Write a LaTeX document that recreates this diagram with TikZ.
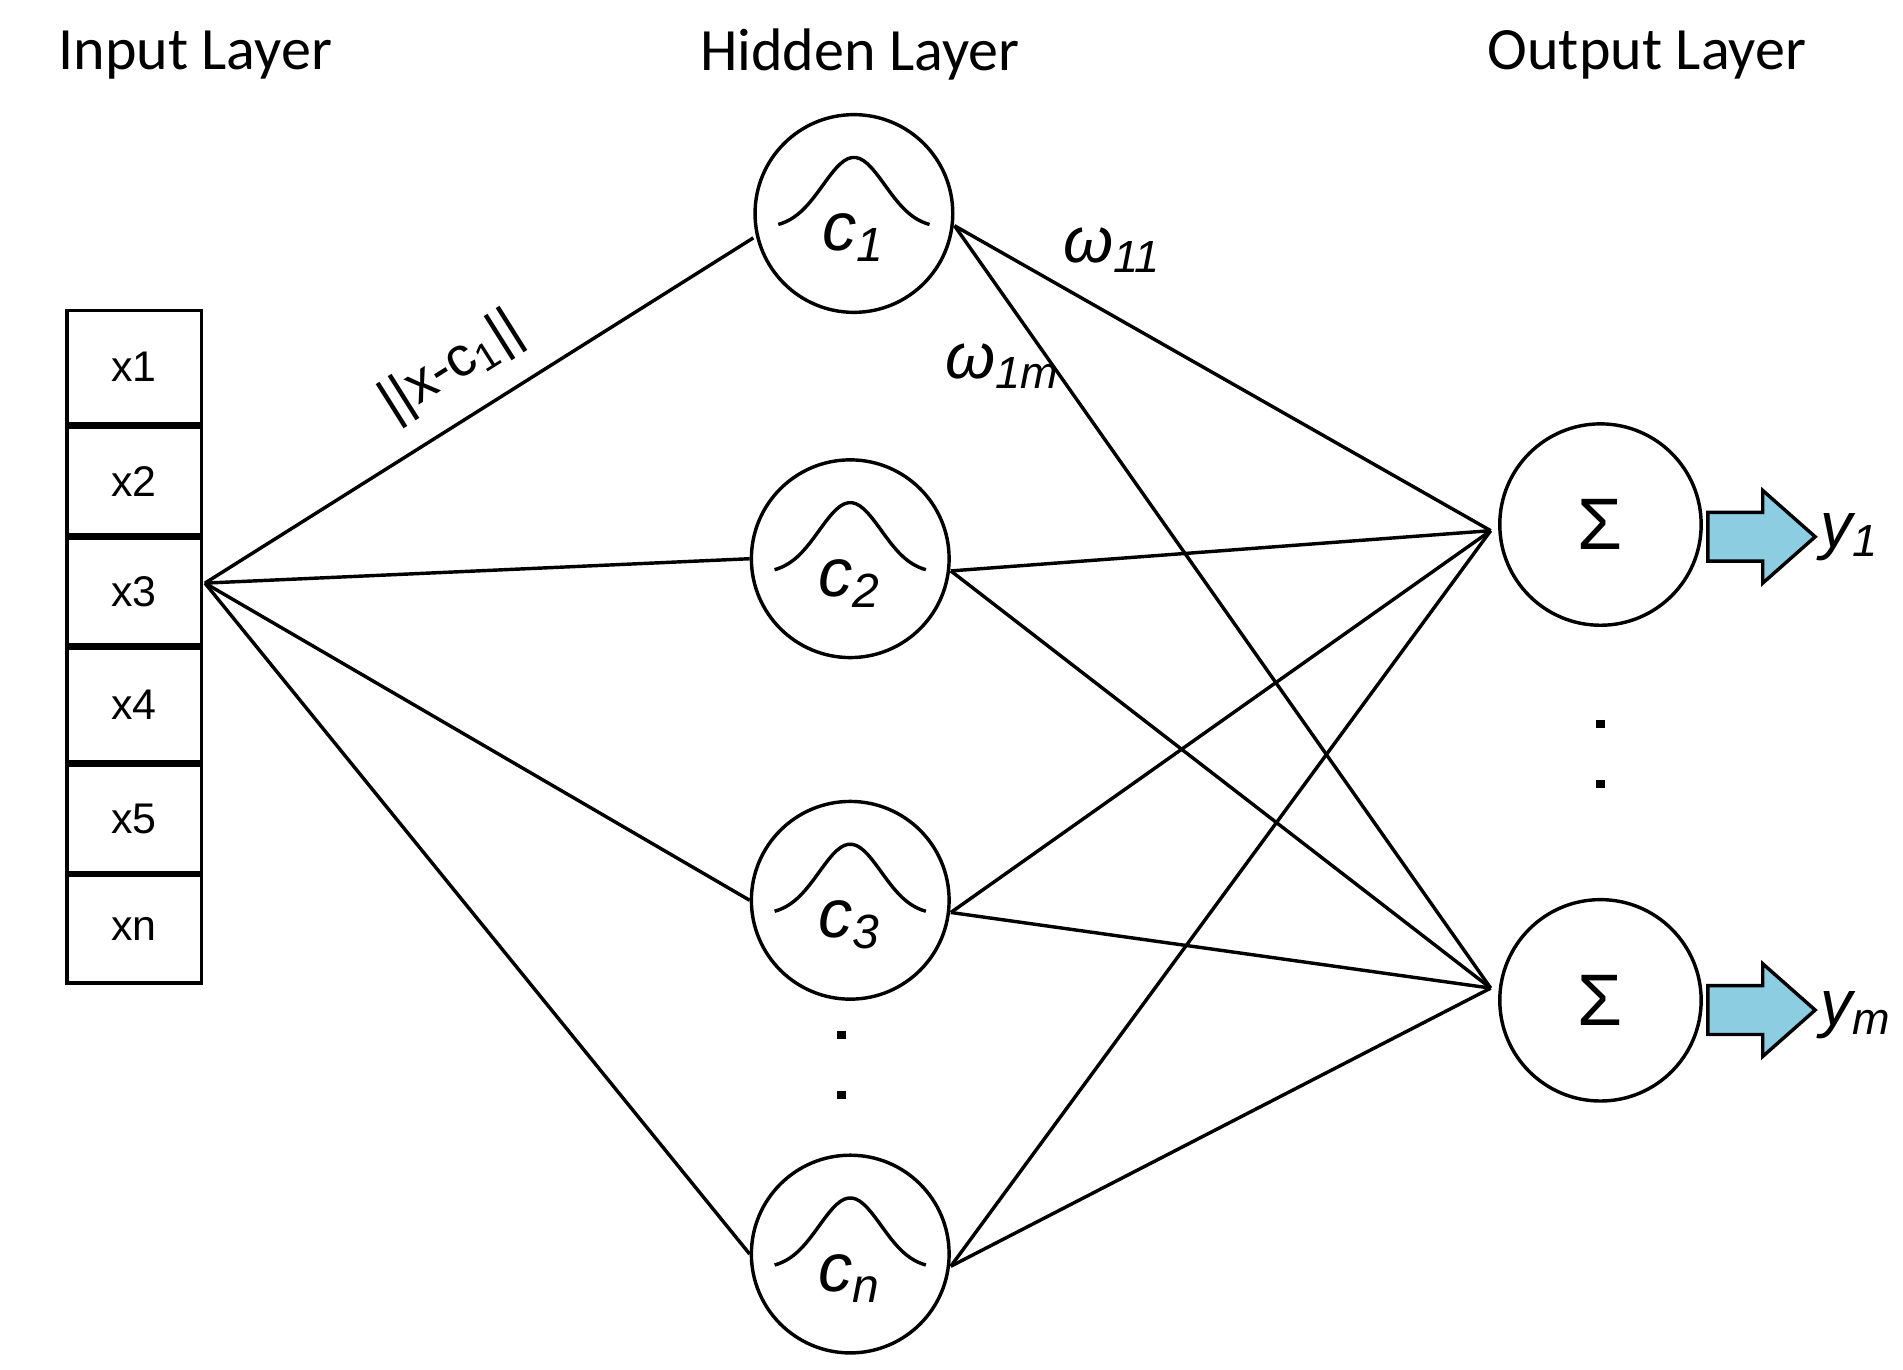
\documentclass[tikz,border=0pt]{standalone}
\usepackage{fontspec}
\setmainfont{Liberation Sans}
\newfontfamily\titlefont{Carlito}
\usetikzlibrary{positioning}
\definecolor{arrowblue}{RGB}{140,205,225}
\tikzset{
  rbf/.style={draw, thick, circle, minimum size=1.62cm, inner sep=0pt},
  sumnode/.style={draw, thick, circle, minimum size=1.65cm, inner sep=0pt},
  cell/.style={draw, thick, minimum width=1.1cm, inner sep=0pt, font=\fontsize{10}{12}\selectfont},
  conn/.style={thick},
  outarrow/.style={fill=arrowblue, draw=black, thick},
  title/.style={font=\titlefont\fontsize{14}{16}\selectfont},
  dotcol/.style={line width=2pt, dash pattern=on 2pt off 12pt}
}
\begin{document}
\begin{tikzpicture}[x=0.01cm, y=-0.01cm]
  \useasboundingbox (0,0) rectangle (1560,1123);
  % titles
  \node[title] (tin) at (160,45) {Input Layer};
  \node[title] (thid) at (705,45) {Hidden Layer};
  \node[title] (tout) at (1350,45) {Output Layer};
  % input vector
  \node[cell, minimum height=0.93cm] (x1) at (110,301) {x1};
  \node[cell, minimum height=0.88cm, below=0pt of x1] (x2) {x2};
  \node[cell, minimum height=0.87cm, below=0pt of x2] (x3) {x3};
  \node[cell, minimum height=0.93cm, below=0pt of x3] (x4) {x4};
  \node[cell, minimum height=0.88cm, below=0pt of x4] (x5) {x5};
  \node[cell, minimum height=0.88cm, below=0pt of x5] (xn) {xn};
  \coordinate (src) at (168,478);
  % hidden layer
  \node[rbf] (c1) at (700,175) {};
  \node[rbf] (c2) at (697,458) {};
  \node[rbf] (c3) at (697,738) {};
  \node[rbf] (cn) at (697,1028) {};
  \foreach \c/\t in {c1/1, c2/2, c3/3, cn/n} {
    \draw[thick, shift={(\c)}] plot[domain=-62:62, samples=40] (\x,{12-58*exp(-(\x/36)^2)});
    \node[font=\fontsize{16}{18}\selectfont\itshape] at ([yshift=-0.2cm]\c) {c\textsubscript{\t}};
  }
  \coordinate (hd1) at (690,845);
  \coordinate (hd2) at (690,915);
  \draw[dotcol] (hd1) -- (hd2);
  % output layer
  \node[sumnode] (o1) at (1312,430) {\fontsize{17}{18}\selectfont Σ};
  \node[sumnode] (om) at (1312,820) {\fontsize{17}{18}\selectfont Σ};
  \coordinate (od1) at (1312,590);
  \coordinate (od2) at (1312,665);
  \draw[dotcol] (od1) -- (od2);
  \coordinate (o1in) at (1222,435);
  \coordinate (omin) at (1222,810);
  % connections
  \draw[conn] (src) -- (c1.west |- 0,195) node[pos=0.5, above=2pt, sloped, font=\fontsize{13}{14}\selectfont] {||x-c\textsubscript{1}||};
  \draw[conn] (src) -- (c2.west);
  \draw[conn] (src) -- (c3.west);
  \draw[conn] (src) -- (cn.west);
  \foreach \c in {c1, c2, c3, cn} {
    \draw[conn] ([yshift=-0.1cm]\c.east) -- (o1in);
    \draw[conn] ([yshift=-0.1cm]\c.east) -- (omin);
  }
  \node[font=\fontsize{15}{16}\selectfont\itshape] (w11) at (912,205) {ω\textsubscript{11}};
  \node[font=\fontsize{15}{16}\selectfont\itshape] (w1m) at (822,300) {ω\textsubscript{1m}};
  % outputs
  \foreach \n/\y in {a1/440, am/828} {
    \coordinate (\n) at (1400,\y);
    \draw[outarrow] (\n) ++(0,-20) -- ++(45,0) -- ++(0,-18) -- ++(43,38) -- ++(-43,38) -- ++(0,-18) -- ++(-45,0) -- cycle;
  }
  \node[font=\fontsize{15}{16}\selectfont\itshape, anchor=west, inner sep=1pt] (y1) at (1488,440) {y\textsubscript{1}};
  \node[font=\fontsize{15}{16}\selectfont\itshape, anchor=west, inner sep=1pt] (ym) at (1488,832) {y\textsubscript{m}};
\end{tikzpicture}
\end{document}
